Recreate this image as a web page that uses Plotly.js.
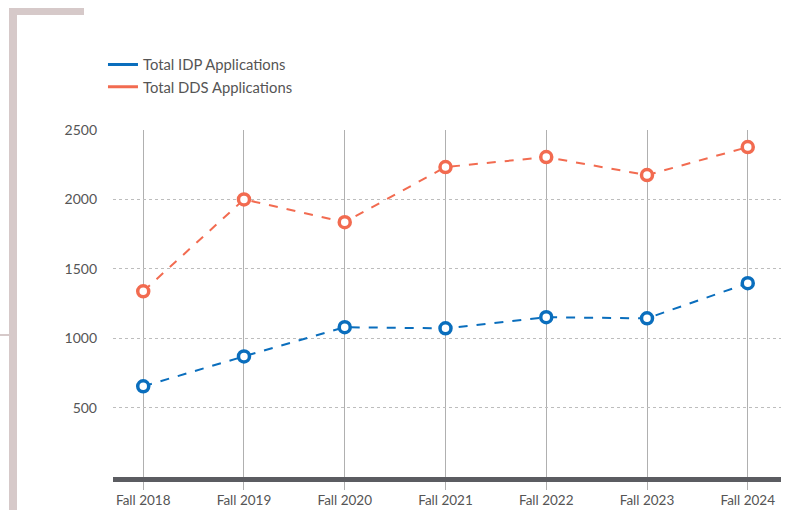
<!DOCTYPE html>
<html>
<head>
<meta charset="utf-8">
<script src="https://cdn.plot.ly/plotly-3.0.1.min.js"></script>
<style>html,body{margin:0;padding:0;background:#fff;}#chart{width:786px;height:510px;}</style>
</head>
<body>
<div id="chart"></div>
<script>
const categories = ["Fall 2018","Fall 2019","Fall 2020","Fall 2021","Fall 2022","Fall 2023","Fall 2024"];
const idpValues = [653, 869, 1079, 1071, 1151, 1143, 1396];
const ddsValues = [1338, 2000, 1836, 2233, 2305, 2175, 2377];
const seriesNames = ["Total IDP Applications", "Total DDS Applications"];
const yTicks = [500, 1000, 1500, 2000, 2500];

const blue = "#0a6ebd";
const orange = "#f26b50";
const deco = "#d6c9c9";
const font = "Lato, 'Open Sans', sans-serif";

function lineTrace(y, color) {
  return {
    x: categories, y: y, type: "scatter", mode: "lines+markers",
    showlegend: false, hoverinfo: "skip",
    line: {color: color, width: 2, dash: "dash"},
    marker: {symbol: "circle", size: 11, color: "#ffffff", line: {color: color, width: 3.5}}
  };
}
function legendTrace(name, color) {
  return {
    x: [null], y: [null], type: "scatter", mode: "lines", name: name,
    line: {color: color, width: 3}
  };
}

const data = [
  lineTrace(ddsValues, orange),
  lineTrace(idpValues, blue),
  legendTrace(seriesNames[0], blue),
  legendTrace(seriesNames[1], orange)
];

const layout = {
  width: 786, height: 510,
  margin: {l: 113, r: 5, t: 130, b: 33},
  paper_bgcolor: "#ffffff", plot_bgcolor: "#ffffff",
  font: {family: font, size: 14, color: "#555555"},
  showlegend: true,
  legend: {
    x: -0.015, xanchor: "left", y: 1.235, yanchor: "top",
    font: {family: font, size: 14.8, color: "#555555"},
    itemwidth: 30, tracegroupgap: 0, traceorder: "normal",
    bgcolor: "rgba(0,0,0,0)"
  },
  xaxis: {
    type: "category", range: [-0.3, 6.33],
    showgrid: true, gridcolor: "#b0b0b0", gridwidth: 1,
    showline: true, linecolor: "#5b5c61", linewidth: 5,
    ticks: "outside", ticklen: 8, tickcolor: "#b0b0b0", tickwidth: 1,
    ticklabelstandoff: -1,
    tickfont: {family: font, size: 13.5, color: "#555555"},
    zeroline: false, fixedrange: true
  },
  yaxis: {
    range: [0, 2500], tickvals: yTicks,
    showgrid: true, gridcolor: "#bdbdbd", gridwidth: 1, griddash: "dot",
    showline: false, zeroline: false, ticks: "", ticklabelstandoff: 15,
    tickfont: {family: font, size: 14, color: "#555555"},
    fixedrange: true
  },
  shapes: [
    {type: "rect", xref: "paper", yref: "paper", x0: -0.1557, x1: -0.1437, y0: -0.12, y1: 1.3516, fillcolor: deco, line: {width: 0}, layer: "below"},
    {type: "rect", xref: "paper", yref: "paper", x0: -0.1557, x1: -0.0434, y0: 1.3314, y1: 1.3516, fillcolor: deco, line: {width: 0}, layer: "below"},
    {type: "rect", xref: "paper", yref: "paper", x0: -0.1700, x1: -0.1557, y0: 0.4063, y1: 0.4121, fillcolor: deco, line: {width: 0}, layer: "below"}
  ]
};

Plotly.newPlot("chart", data, layout, {displayModeBar: false, staticPlot: true});
</script>
</body>
</html>
